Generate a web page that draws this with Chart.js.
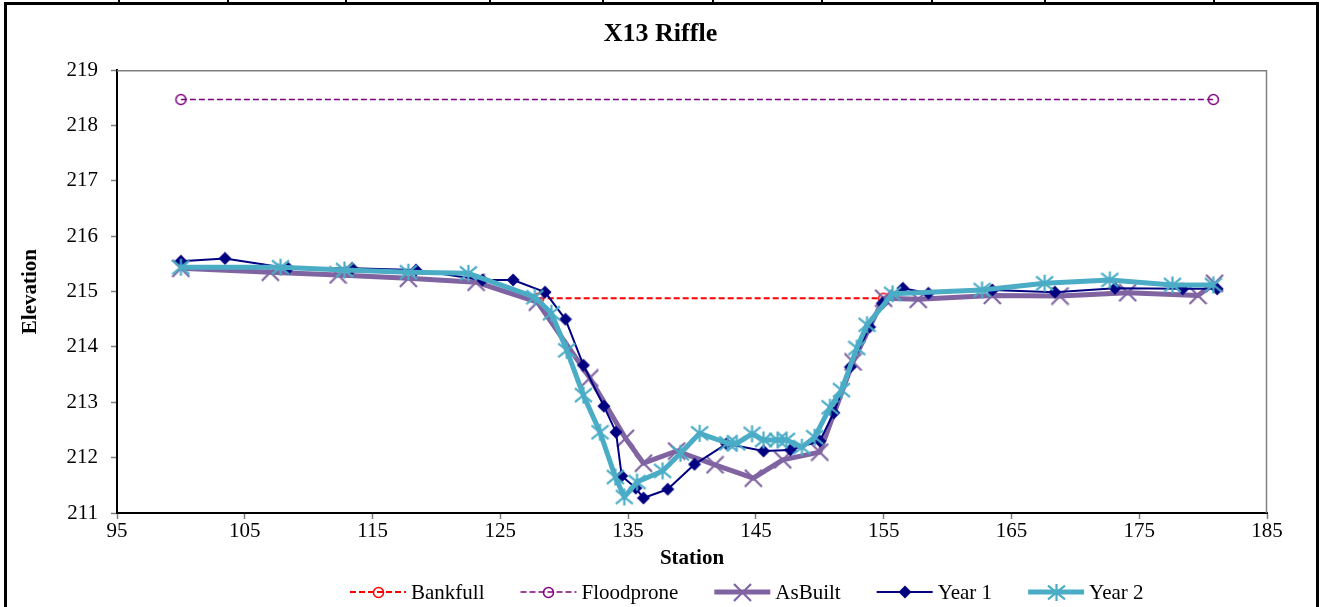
<!DOCTYPE html>
<html>
<head>
<meta charset="utf-8">
<title>X13 Riffle</title>
<script src="https://cdn.jsdelivr.net/npm/chart.js@4.4.1/dist/chart.umd.min.js"></script>
<style>
  html, body { margin: 0; padding: 0; background: #ffffff; }
  #wrap { position: relative; width: 1321px; height: 607px; overflow: hidden; background: #ffffff; }
  #chart { position: absolute; left: 0; top: 0; }
  #frame { position: absolute; left: 4px; top: 2px; width: 1315px; height: 640px;
           border: 3px solid #000; box-sizing: border-box; pointer-events: none; }
  .cellmark { position: absolute; top: 0; width: 2px; height: 3px; background: #000; }
</style>
</head>
<body>
<div id="wrap">
  <canvas id="chart" width="1321" height="607"></canvas>
  <div id="frame"></div>
</div>
<script>
// ---- chart text ----
const chartTitle = 'X13 Riffle';
const xAxisTitle = 'Station';
const yAxisTitle = 'Elevation';
const seriesNames = ['Bankfull', 'Floodprone', 'AsBuilt', 'Year 1', 'Year 2'];

// ---- axis ticks ----
const xTickValues = [95, 105, 115, 125, 135, 145, 155, 165, 175, 185];
const yTickValues = [211, 212, 213, 214, 215, 216, 217, 218, 219];

// ---- survey data (station, elevation) ----
const bankfullStation = [128.0, 155.0];
const bankfullElev    = [214.88, 214.88];

const floodproneStation = [100.0, 180.8];
const floodproneElev    = [218.47, 218.47];

const asBuiltStation = [100.0, 107.0, 112.3, 117.8, 123.1, 127.9, 132.0, 134.8, 136.2, 138.8, 141.8,
                        144.8, 147.1, 150.0, 152.6, 155.0, 157.7, 163.5, 168.8, 174.1, 179.6, 180.9];
const asBuiltElev    = [215.42, 215.35, 215.30, 215.24, 215.17, 214.81, 213.44, 212.35, 211.90, 212.12, 211.87,
                        211.63, 211.96, 212.10, 213.73, 214.88, 214.86, 214.93, 214.92, 214.98, 214.93, 215.15];

const year1Station = [100.0, 103.45, 108.4, 113.4, 118.4, 123.6, 126.0, 128.5, 130.1, 131.5, 133.1,
                      134.05, 134.5, 135.6, 136.2, 138.1, 140.2, 142.7, 145.6, 147.7, 150.0, 151.1,
                      152.4, 153.9, 154.9, 156.5, 158.5, 163.5, 168.4, 173.1, 178.4, 181.1];
const year1Elev    = [215.55, 215.60, 215.42, 215.42, 215.39, 215.21, 215.21, 214.99, 214.50, 213.67, 212.93,
                      212.46, 211.67, 211.45, 211.27, 211.43, 211.88, 212.25, 212.12, 212.14, 212.30, 212.81,
                      213.64, 214.36, 214.79, 215.06, 214.97, 215.03, 214.99, 215.06, 215.05, 215.05];

const year2Station = [100.0, 107.8, 112.8, 117.8, 122.5, 127.7, 129.0, 130.2, 131.5, 132.8, 134.0,
                      134.7, 135.7, 137.7, 139.1, 140.6, 142.8, 143.5, 144.7, 145.6, 146.7, 147.4,
                      148.6, 149.6, 150.8, 151.7, 152.9, 153.7, 155.7, 162.7, 167.6, 172.7, 177.6, 180.8];
const year2Elev    = [215.44, 215.44, 215.39, 215.35, 215.33, 214.90, 214.61, 213.94, 213.13, 212.46, 211.65,
                      211.29, 211.56, 211.76, 212.08, 212.44, 212.26, 212.26, 212.43, 212.32, 212.32, 212.32,
                      212.19, 212.37, 212.91, 213.22, 213.98, 214.40, 214.96, 215.03, 215.15, 215.21, 215.12, 215.12];

// ---- helpers ----
const FONT = 'Liberation Serif';
Chart.defaults.font.family = FONT;
Chart.defaults.color = '#000';

function pairs(xs, ys) { return xs.map((x, i) => ({ x: x, y: ys[i] })); }

// Marker glyphs rendered once to small canvases, used both on the plot and in the key.
function makeMarker(kind, color, size, lw) {
  const c = document.createElement('canvas');
  c.width = size; c.height = size;
  const g = c.getContext('2d');
  const m = size / 2;
  g.strokeStyle = color; g.fillStyle = color; g.lineWidth = lw; g.lineCap = 'butt';
  g.beginPath();
  if (kind === 'circle') {
    g.arc(m, m, m - lw, 0, Math.PI * 2);
    g.stroke();
  } else if (kind === 'x') {
    const r = m - 1;
    g.moveTo(m - r, m - r); g.lineTo(m + r, m + r);
    g.moveTo(m + r, m - r); g.lineTo(m - r, m + r);
    g.stroke();
  } else if (kind === 'star') {
    const r = m - 1;
    g.moveTo(m - r, m - r * 0.8); g.lineTo(m + r, m + r * 0.8);
    g.moveTo(m + r, m - r * 0.8); g.lineTo(m - r, m + r * 0.8);
    g.moveTo(m, m - r); g.lineTo(m, m + r);
    g.stroke();
  } else if (kind === 'diamond') {
    const r = m - 0.5;
    g.moveTo(m, m - r); g.lineTo(m + r, m); g.lineTo(m, m + r); g.lineTo(m - r, m);
    g.closePath(); g.fill();
  }
  return c;
}

const colBankfull = '#FF0000';
const colFloodprone = '#800080';
const colAsBuilt = '#8064A2';
const colYear1 = '#000080';
const colYear2 = '#4BACC6';

const mkBankfull = makeMarker('circle', colBankfull, 13, 1.5);
const mkFloodprone = makeMarker('circle', colFloodprone, 13, 1.5);
const mkAsBuilt = makeMarker('x', colAsBuilt, 19, 2.2);
const mkYear1 = makeMarker('diamond', colYear1, 14, 1);
const mkYear2 = makeMarker('star', colYear2, 19, 2.2);

const datasets = [
  { label: seriesNames[0], data: pairs(bankfullStation, bankfullElev), borderColor: colBankfull,
    borderWidth: 2, borderDash: [6, 3], pointStyle: mkBankfull, order: 5 },
  { label: seriesNames[1], data: pairs(floodproneStation, floodproneElev), borderColor: colFloodprone,
    borderWidth: 1.5, borderDash: [6, 3], pointStyle: mkFloodprone, order: 4 },
  { label: seriesNames[2], data: pairs(asBuiltStation, asBuiltElev), borderColor: colAsBuilt,
    borderWidth: 5, pointStyle: mkAsBuilt, order: 3 },
  { label: seriesNames[3], data: pairs(year1Station, year1Elev), borderColor: colYear1,
    borderWidth: 2, pointStyle: mkYear1, order: 2 },
  { label: seriesNames[4], data: pairs(year2Station, year2Elev), borderColor: colYear2,
    borderWidth: 5, pointStyle: mkYear2, order: 1 }
];
datasets.forEach(d => {
  d.showLine = true; d.fill = false; d.tension = 0;
  d.backgroundColor = d.borderColor; d.pointRadius = 6; d.pointHoverRadius = 6;
  d.borderJoinStyle = 'round';
});

// Grey outline on the top and right of the plot area.
const plotOutline = {
  id: 'plotOutline',
  beforeDatasetsDraw(chart) {
    const { ctx, chartArea: a } = chart;
    ctx.save();
    ctx.strokeStyle = '#808080';
    ctx.lineWidth = 1.5;
    ctx.beginPath();
    ctx.moveTo(a.left, a.top + 0.5);
    ctx.lineTo(a.right - 0.5, a.top + 0.5);
    ctx.lineTo(a.right - 0.5, a.bottom);
    ctx.stroke();
    ctx.restore();
  }
};

// Key along the bottom: line sample with its marker, then the series name.
const seriesKey = {
  id: 'seriesKey',
  afterDraw(chart) {
    const { ctx } = chart;
    const fontSize = 21, sampleW = 56, gapText = 5, gapItem = 36, centerX = 747, cy = 592;
    ctx.save();
    ctx.font = fontSize + 'px "' + FONT + '"';
    const items = chart.data.datasets.map(d => ({ d: d, w: ctx.measureText(d.label).width }));
    const total = items.reduce((s, it) => s + sampleW + gapText + it.w, 0) + gapItem * (items.length - 1);
    let x = Math.round(centerX - total / 2);
    items.forEach(it => {
      const d = it.d;
      ctx.strokeStyle = d.borderColor;
      ctx.lineWidth = d.borderWidth;
      ctx.setLineDash(d.borderDash || []);
      ctx.beginPath();
      ctx.moveTo(x, cy); ctx.lineTo(x + sampleW, cy);
      ctx.stroke();
      ctx.setLineDash([]);
      const img = d.pointStyle;
      ctx.drawImage(img, Math.round(x + sampleW / 2 - img.width / 2), Math.round(cy - img.height / 2));
      ctx.fillStyle = '#000';
      ctx.textBaseline = 'middle';
      ctx.textAlign = 'left';
      ctx.fillText(d.label, x + sampleW + gapText, cy + 1);
      x += sampleW + gapText + it.w + gapItem;
    });
    ctx.restore();
  }
};

new Chart(document.getElementById('chart'), {
  type: 'line',
  data: { datasets: datasets },
  plugins: [plotOutline, seriesKey],
  options: {
    responsive: false,
    animation: false,
    devicePixelRatio: 1,
    layout: { padding: { left: 0, right: 0, top: 0, bottom: 0 } },
    plugins: {
      legend: { display: false },
      tooltip: { enabled: false },
      title: {
        display: true, text: chartTitle, color: '#000',
        font: { family: FONT, size: 26, weight: 'bold' },
        padding: { top: 19, bottom: 20 }
      }
    },
    scales: {
      x: {
        type: 'linear', position: 'bottom', min: 95, max: 185,
        afterBuildTicks: s => { s.ticks = xTickValues.map(v => ({ value: v })); },
        afterFit: s => { s.height = 94; },
        ticks: { font: { size: 21 }, color: '#000', padding: 0, maxRotation: 0, autoSkip: false },
        grid: { drawOnChartArea: false, drawTicks: true, tickLength: 6, tickColor: '#808080', tickWidth: 1.5 },
        border: { color: '#000', width: 2 },
        title: { display: true, text: xAxisTitle, color: '#000', font: { size: 21, weight: 'bold' },
                 padding: { top: 0, bottom: 36 } }
      },
      y: {
        type: 'linear', position: 'left', min: 211, max: 219,
        afterBuildTicks: s => { s.ticks = yTickValues.map(v => ({ value: v })); },
        afterFit: s => { s.width = 117; },
        ticks: { font: { size: 21 }, color: '#000', padding: 13 },
        grid: { drawOnChartArea: false, drawTicks: true, tickLength: 6, tickColor: '#808080', tickWidth: 1.5 },
        border: { color: '#000', width: 2 },
        title: { display: true, text: yAxisTitle, color: '#000', font: { size: 21, weight: 'bold' },
                 padding: { top: 18, bottom: 0 } }
      },
      yRight: {
        type: 'linear', position: 'right', display: true,
        afterFit: s => { s.width = 54; },
        ticks: { display: false },
        grid: { display: false },
        border: { display: false }
      }
    }
  }
});

// Cell borders of the sheet row running along the top edge.
[118, 227, 345, 489, 602, 712, 821, 931, 1044, 1213].forEach(px => {
  const m = document.createElement('div');
  m.className = 'cellmark';
  m.style.left = px + 'px';
  document.getElementById('wrap').appendChild(m);
});
</script>
</body>
</html>
